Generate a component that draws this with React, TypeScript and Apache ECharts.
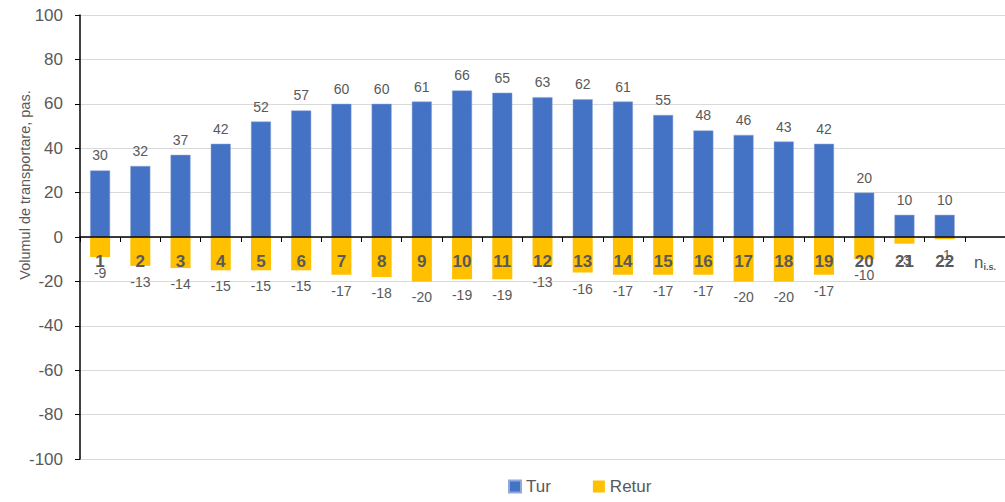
import React, { useEffect, useRef } from "react";
import * as echarts from "echarts";

const categories = ["1","2","3","4","5","6","7","8","9","10","11","12","13","14","15","16","17","18","19","20","21","22","n"];
const turValues = [30,32,37,42,52,57,60,60,61,66,65,63,62,61,55,48,46,43,42,20,10,10];
const returValues = [-9,-13,-14,-15,-15,-15,-17,-18,-20,-19,-19,-13,-16,-17,-17,-17,-20,-20,-17,-10,-3,-1];
const yTicks = { min: -100, max: 100, interval: 20 };
const yTitle = "Volumul de transportare, pas.";

const FONT = "Liberation Sans";
const GREY = "#595959";
const TOP = 15;
const BOTTOM_PX = 459;

export default function App() {
  const ref = useRef<HTMLDivElement>(null);
  useEffect(() => {
    document.body.style.margin = "0";
    const chart = echarts.init(ref.current!, undefined, { renderer: "svg" });
    const plotH = BOTTOM_PX - TOP;
    const zeroOffset = -(plotH * (0 - yTicks.min)) / (yTicks.max - yTicks.min);
    chart.setOption({
      animation: false,
      textStyle: { fontFamily: FONT },
      grid: { left: 80, right: -9, top: TOP, bottom: 502 - BOTTOM_PX, containLabel: false },
      legend: {
        bottom: 2,
        left: 503,
        itemWidth: 12,
        itemHeight: 12,
        itemGap: 42,
        icon: "rect",
        textStyle: { color: GREY, fontSize: 17, fontFamily: FONT },
        data: ["Tur", "Retur"],
      },
      graphic: [
        {
          type: "text",
          x: 25,
          y: 185,
          rotation: Math.PI / 2,
          style: {
            text: yTitle,
            fill: GREY,
            font: `14.5px ${FONT}`,
            align: "center",
            verticalAlign: "middle",
          },
        },
      ],
      xAxis: {
        type: "category",
        data: categories,
        z: 5,
        offset: zeroOffset,
        axisLine: { onZero: false, lineStyle: { color: "#000", width: 1.5 } },
        axisTick: { show: true, length: 5, lineStyle: { color: "#000" } },
        axisLabel: {
          margin: 16,
          color: GREY,
          fontSize: 17,
          fontWeight: "bold",
          interval: 0,
          formatter: (v: string) => (v === "n" ? "{n|n}{s|i.s.}" : v),
          rich: {
            n: { fontSize: 17, color: GREY, fontWeight: "normal" },
            s: { fontSize: 9, color: GREY, fontWeight: "bold", padding: [9, 0, 0, 0] },
          },
        },
        splitLine: { show: false },
      },
      yAxis: {
        type: "value",
        min: yTicks.min,
        max: yTicks.max,
        interval: yTicks.interval,
        axisLine: { show: true, lineStyle: { color: "#000", width: 1.5 } },
        axisTick: { show: true, length: 5, lineStyle: { color: "#000" } },
        axisLabel: { color: GREY, fontSize: 17, margin: 17 },
        splitLine: { lineStyle: { color: "#d9d9d9", width: 1 } },
      },
      series: [
        {
          name: "Tur",
          type: "bar",
          data: turValues,
          barWidth: 20,
          barGap: "-100%",
          itemStyle: { color: "#4472C4", borderColor: "#8fa9db", borderWidth: 0.5 },
          label: { show: true, position: "top", distance: 8, color: GREY, fontSize: 14 },
        },
        {
          name: "Retur",
          type: "bar",
          data: returValues,
          barWidth: 20,
          barGap: "-100%",
          itemStyle: { color: "#FFC000" },
          label: { show: true, position: "bottom", distance: 9, color: GREY, fontSize: 14 },
        },
      ],
    });
    return () => chart.dispose();
  }, []);
  return <div ref={ref} style={{ width: 1005, height: 502 }} />;
}
